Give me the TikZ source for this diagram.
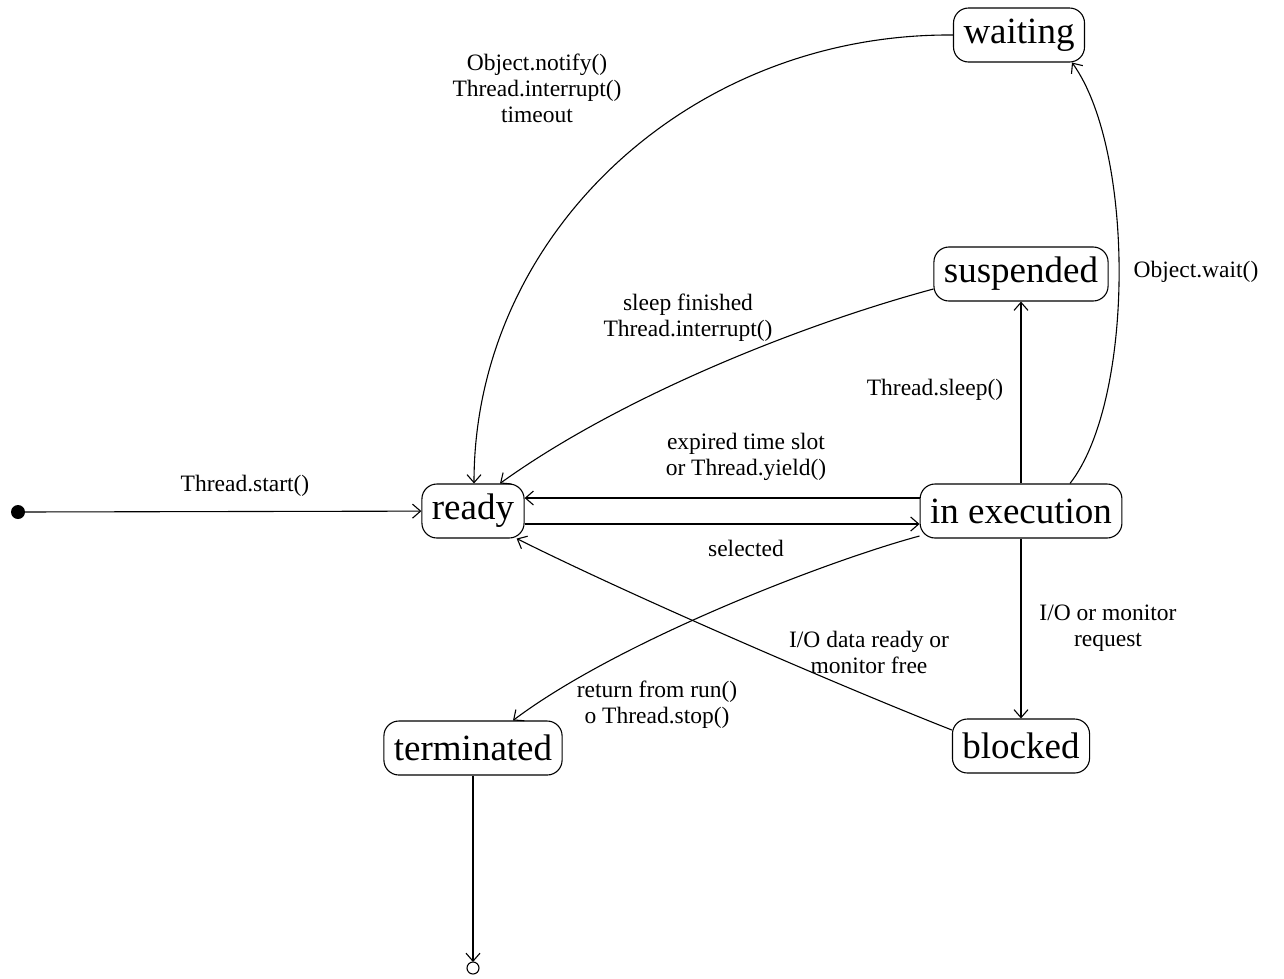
\documentclass[tikz,border=0pt]{standalone}
\usepackage{fontspec}
\setmainfont{Liberation Serif}
\usetikzlibrary{
  arrows.meta
}
\tikzset{>={Straight Barb[length=8pt,width=14pt]},
  state/.style={draw,rounded corners=15pt,line width=1.1pt,minimum height=54pt,
    inner xsep=10pt,font=\fontsize{37}{40}\selectfont},
  lbl/.style={align=center,inner sep=0pt,font=\fontsize{23.5}{26}\selectfont},
  edge/.style={->,line width=1.1pt}
}

\begin{document}
\begin{tikzpicture}[x=1pt,y=-1pt]
\useasboundingbox (0,0) rectangle (1284,978);
% states
\node[state] (ready) at (473,511) {ready};
\node[state] (exec) at (1021,511) {in execution};
\node[state] (waiting) at (1019,35) {waiting};
\node[state] (susp) at (1021,274) {suspended};
\node[state] (term) at (473,748) {terminated};
\node[state] (blocked) at (1021,746) {blocked};
\fill (18,512) circle (7) coordinate (init);
\draw[line width=1.1pt] (473,968) circle (6);
\coordinate (final) at (473,962);
% labels
\node[lbl] (lstart) at (245,486) {Thread.start()};
\node[lbl] (lnotify) at (537,88) {Object.notify()\\Thread.interrupt()\\timeout};
\node[lbl] (lsleepfin) at (688,318) {sleep finished\\Thread.interrupt()};
\node[lbl] (lwait) at (1196,272) {Object.wait()};
\node[lbl] (lsleep) at (935,390) {Thread.sleep()};
\node[lbl] (lyield) at (746,457) {expired time slot\\or Thread.yield()};
\node[lbl] (lsel) at (746,548) {selected};
\node[lbl] (lio) at (1108,628) {I/O or monitor\\request};
\node[lbl] (lfree) at (869,652) {I/O data ready or\\monitor free};
\node[lbl] (lret) at (657,705) {return from run()\\o Thread.stop()};
% transitions
\draw[edge] (init) -- (ready);
\draw[edge] ([yshift=13pt]exec.west) -- ([yshift=13pt]ready.east);
\draw[edge] ([yshift=-13pt]ready.east) -- ([yshift=-13pt]exec.west);
\draw[edge] (exec) -- (susp);
\draw[edge] (exec) -- (blocked);
\draw[edge] (waiting.west) .. controls (688,33) and (474,236) .. ([xshift=1pt]ready.north);
\draw[edge] ([yshift=-15pt]susp.west) .. controls (800,325) and (620,397) .. ([xshift=27pt]ready.north);
\draw[edge] ([xshift=49pt]exec.north) .. controls (1135,400) and (1135,150) .. ([xshift=53pt]waiting.south);
\draw[edge] ([yshift=16pt]blocked.west) .. controls (850,690) and (640,600) .. ([xshift=-8pt]ready.south east);
\draw[edge] ([yshift=-25pt]exec.west) .. controls (830,560) and (620,640) .. ([xshift=40pt]term.north);
\draw[edge] (term) -- (final);
\end{tikzpicture}
\end{document}
